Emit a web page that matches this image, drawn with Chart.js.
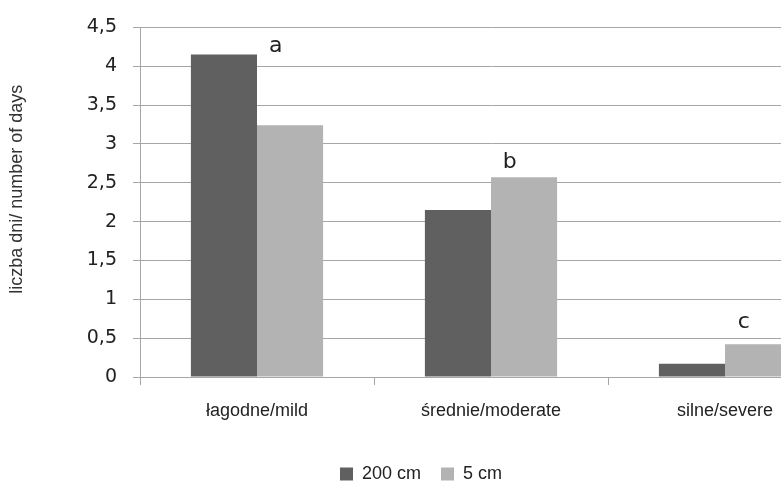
<!DOCTYPE html>
<html>
<head>
<meta charset="utf-8">
<script src="https://cdn.jsdelivr.net/npm/chart.js@4.4.1/dist/chart.umd.min.js"></script>
<style>
  html, body { margin: 0; padding: 0; background: #fff; width: 781px; height: 483px; overflow: hidden; }
  #wrap { position: relative; width: 781px; height: 483px; overflow: hidden; }
  #graphCanvas { position: absolute; left: 0; top: 0; }
</style>
</head>
<body>
<div id="wrap">
  <canvas id="graphCanvas" width="874" height="493"></canvas>
</div>
<script>
// data
var categories = ['łagodne/mild', 'średnie/moderate', 'silne/severe'];
var seriesNames = ['200 cm', '5 cm'];
var values200 = [4.15, 2.15, 0.17];
var values5 = [3.24, 2.57, 0.42];
var groupLetters = ['a', 'b', 'c'];
var letterLevels = [4.26, 2.77, 0.71];
var yTickLabels = ['0', '0,5', '1', '1,5', '2', '2,5', '3', '3,5', '4', '4,5'];
var yTitle = 'liczba dni/ number of days';

var lineGray = '#a6a6a6';

// letters a, b, c over the groups + rotated y title
var extraText = {
    id: 'extraText',
    afterDatasetsDraw: function (chart) {
        var ctx = chart.ctx;
        var xs = chart.scales.x;
        var ys = chart.scales.y;
        var catW = xs.getPixelForValue(1) - xs.getPixelForValue(0);
        ctx.save();
        ctx.fillStyle = '#222';
        ctx.font = '22px "DejaVu Sans"';
        ctx.textAlign = 'center';
        ctx.textBaseline = 'middle';
        for (var i = 0; i < groupLetters.length; i++) {
            ctx.fillText(groupLetters[i], xs.getPixelForValue(i) + catW * 0.08, ys.getPixelForValue(letterLevels[i]));
        }
        var area = chart.chartArea;
        ctx.translate(17.5, (area.top + area.bottom) / 2 - 13);
        ctx.rotate(-Math.PI / 2);
        ctx.font = '18px "Liberation Sans"';
        ctx.fillStyle = '#333';
        ctx.fillText(yTitle, 0, 0);
        ctx.restore();
    }
};

var chartdata = {
    labels: categories,
    datasets: [
        {
            label: seriesNames[0],
            backgroundColor: '#606060',
            data: values200
        },
        {
            label: seriesNames[1],
            backgroundColor: '#b3b3b3',
            data: values5
        }
    ]
};

var graphTarget = document.getElementById('graphCanvas');

var barGraph = new Chart(graphTarget, {
    type: 'bar',
    data: chartdata,
    plugins: [extraText],
    options: {
        responsive: false,
        animation: false,
        devicePixelRatio: 1,
        layout: { padding: { top: 23, right: 32, left: 0, bottom: 0 } },
        datasets: {
            bar: { categoryPercentage: 0.565, barPercentage: 1.0 }
        },
        plugins: {
            tooltip: { enabled: false },
            legend: {
                position: 'bottom',
                labels: {
                    color: '#222',
                    font: { family: 'Liberation Sans', size: 18 },
                    boxWidth: 13,
                    boxHeight: 13,
                    padding: 20
                }
            }
        },
        scales: {
            x: {
                offset: true,
                afterFit: function (scale) { scale.height = 68; },
                grid: { offset: true, drawOnChartArea: false, drawTicks: true, tickLength: 8, color: lineGray },
                border: { color: lineGray },
                ticks: {
                    color: '#222',
                    padding: 15,
                    maxRotation: 0,
                    font: { family: 'Liberation Sans', size: 18 }
                }
            },
            y: {
                min: 0,
                max: 4.5,
                afterFit: function (scale) { scale.width = 140; },
                grid: { color: lineGray, tickLength: 7 },
                border: { color: lineGray },
                ticks: {
                    stepSize: 0.5,
                    padding: 16,
                    color: '#222',
                    font: { family: 'DejaVu Sans', size: 19 },
                    callback: function (value, index) { return yTickLabels[index]; }
                }
            }
        }
    }
});
</script>
</body>
</html>
